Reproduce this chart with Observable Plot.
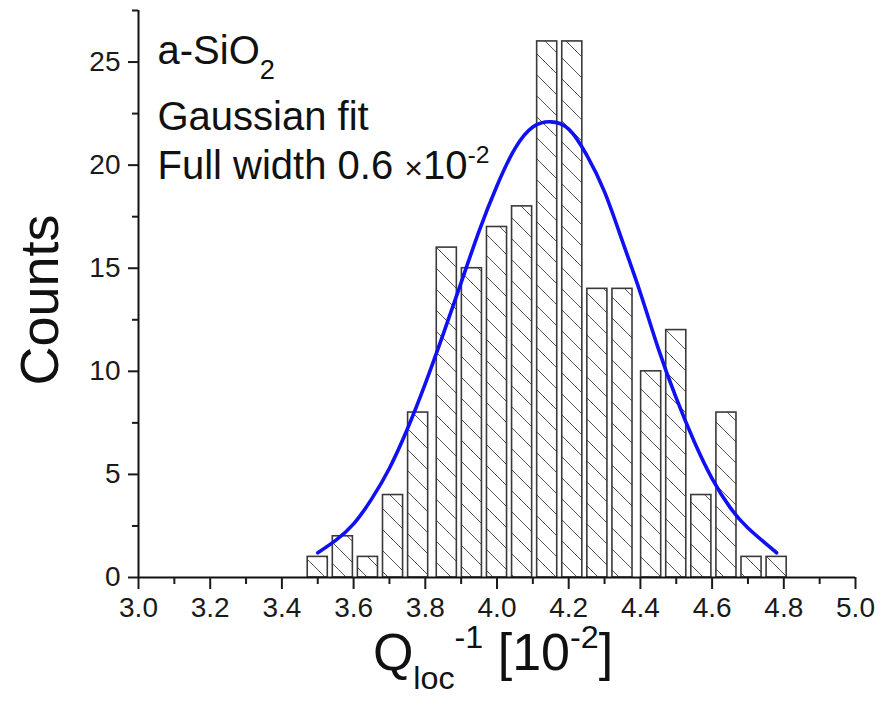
<!DOCTYPE html>
<html><head><meta charset="utf-8">
<script src="https://cdn.jsdelivr.net/npm/d3@7"></script>
<script src="https://cdn.jsdelivr.net/npm/@observablehq/plot@0.6"></script>
<style>
html,body{margin:0;padding:0;background:#fff;}
#chart svg{display:block;}
</style>
</head><body><div id="chart"></div>
<script>
// ---- data ----
const binCenters = [3.50,3.57,3.64,3.71,3.78,3.86,3.93,4.00,4.07,4.14,4.21,4.28,4.35,4.43,4.50,4.57,4.64,4.71,4.78];
const counts     = [1,2,1,4,8,16,15,17,18,26,26,14,14,10,12,4,8,1,1];
// Gaussian-fit curve, points
const fitX = [3.50,3.55,3.60,3.65,3.70,3.75,3.80,3.85,3.90,3.95,4.00,4.05,4.10,4.15,4.20,4.25,4.30,4.35,4.40,4.45,4.50,4.55,4.60,4.65,4.70,4.78];
const fitY = [1.2,1.8,2.6,3.8,5.3,7.2,9.4,11.8,14.3,16.8,19.0,20.8,21.85,22.1,21.75,20.5,18.7,16.3,13.8,11.1,8.7,6.6,4.8,3.4,2.4,1.2];
const xTicks      = [3.0,3.2,3.4,3.6,3.8,4.0,4.2,4.4,4.6,4.8,5.0];
const xMinorTicks = [3.1,3.3,3.5,3.7,3.9,4.1,4.3,4.5,4.7,4.9];
const yTicks      = [0,5,10,15,20,25];
const yMinorTicks = [2.5,7.5,12.5,17.5,22.5,27.5];
const annotations = ["a-SiO2", "Gaussian fit", "Full width 0.6 ×10-2"];
const xTitle = "Qloc-1 [10-2]";
const yTitle = "Counts";

const halfWidth = 0.028;
const bars = binCenters.map((x, i) => ({x, count: counts[i]}));
const fit = fitX.map((x, i) => ({x, y: fitY[i]}));

const font = "Arial, 'Liberation Sans', Helvetica, sans-serif";

const plot = Plot.plot({
  width: 889, height: 711,
  marginLeft: 138, marginRight: 34, marginTop: 10, marginBottom: 134,
  x: {domain: [3, 5]},
  y: {domain: [0, 27.5]},
  style: {fontFamily: font, fontSize: "28px", color: "#1a1a1a", background: "#fff", overflow: "visible"},
  marks: [
    Plot.rectY(bars, {x1: d => d.x - halfWidth, x2: d => d.x + halfWidth, y: "count",
      fill: "url(#hatch)", stroke: "#3a3a3a", strokeWidth: 1.6}),
    Plot.line(fit, {x: "x", y: "y", stroke: "#1010f2", strokeWidth: 3.6, curve: "natural"}),
    Plot.ruleY([0], {stroke: "#111", strokeWidth: 2}),
    Plot.ruleX([3], {stroke: "#111", strokeWidth: 2}),
    Plot.axisX({ticks: xTicks, tickSize: 12, tickPadding: 8, tickFormat: d3.format(".1f"),
      strokeWidth: 2, label: null, fontSize: 28}),
    Plot.axisX({ticks: xMinorTicks, tickSize: 7, tickFormat: () => "", strokeWidth: 2, label: null}),
    Plot.axisY({ticks: yTicks, tickSize: 10, tickPadding: 8, tickFormat: d3.format("d"),
      strokeWidth: 2, label: null, fontSize: 28}),
    Plot.axisY({ticks: yMinorTicks, tickSize: 6, tickFormat: () => "", strokeWidth: 2, label: null}),
    Plot.text([annotations[0]], {frameAnchor: "top-left", dx: 19, dy: 41, textAnchor: "start", lineAnchor: "middle", fontSize: 40, fill: "#111"}),
    Plot.text([annotations[1]], {frameAnchor: "top-left", dx: 19, dy: 107, textAnchor: "start", lineAnchor: "middle", fontSize: 40, fill: "#111"}),
    Plot.text([annotations[2]], {frameAnchor: "top-left", dx: 19, dy: 156, textAnchor: "start", lineAnchor: "middle", fontSize: 40, fill: "#111"}),
    Plot.text([yTitle], {frameAnchor: "left", dx: -98, dy: 6, rotate: -90, textAnchor: "middle", lineAnchor: "middle", fontSize: 54, fill: "#111"}),
    Plot.text([xTitle], {frameAnchor: "bottom", dx: -4, dy: 76, textAnchor: "middle", lineAnchor: "middle", fontSize: 52, fill: "#111"})
  ]
});
document.getElementById("chart").appendChild(plot);

const svg = d3.select(plot);
svg.insert("defs", ":first-child").html(
  '<pattern id="hatch" patternUnits="userSpaceOnUse" width="21" height="21">' +
  '<rect width="21" height="21" fill="#fff"/>' +
  '<path d="M-5,-5L26,26M-5,16L5,26M16,-5L26,5" stroke="#555" stroke-width="1"/></pattern>');

function rich(content, parts) {
  svg.selectAll("text").filter(function() { return this.textContent === content; }).each(function() {
    const t = d3.select(this);
    t.text("");
    let cur = 0;
    for (const [s, kind, size] of parts) {
      const target = kind === "sub" ? 0.36 : kind === "sup" ? -0.42 : 0;
      const sp = t.append("tspan").text(s);
      const fs = size || 1;
      sp.attr("dy", ((target - cur) / fs).toFixed(3) + "em");
      if (fs !== 1) sp.attr("font-size", fs + "em");
      cur = target;
    }
  });
}
rich("a-SiO2", [["a-SiO", "normal"], ["2", "sub", 0.68]]);
rich("Full width 0.6 ×10-2", [["Full width 0.6 ", "normal"], ["×", "normal", 0.8], ["10", "normal"], ["-2", "sup", 0.62]]);
rich("Qloc-1 [10-2]", [["Q", "normal"], ["loc", "sub", 0.62], ["-1", "sup", 0.62], [" [10", "normal"], ["-2", "sup", 0.62], ["]", "normal"]]);
</script>
</body></html>
